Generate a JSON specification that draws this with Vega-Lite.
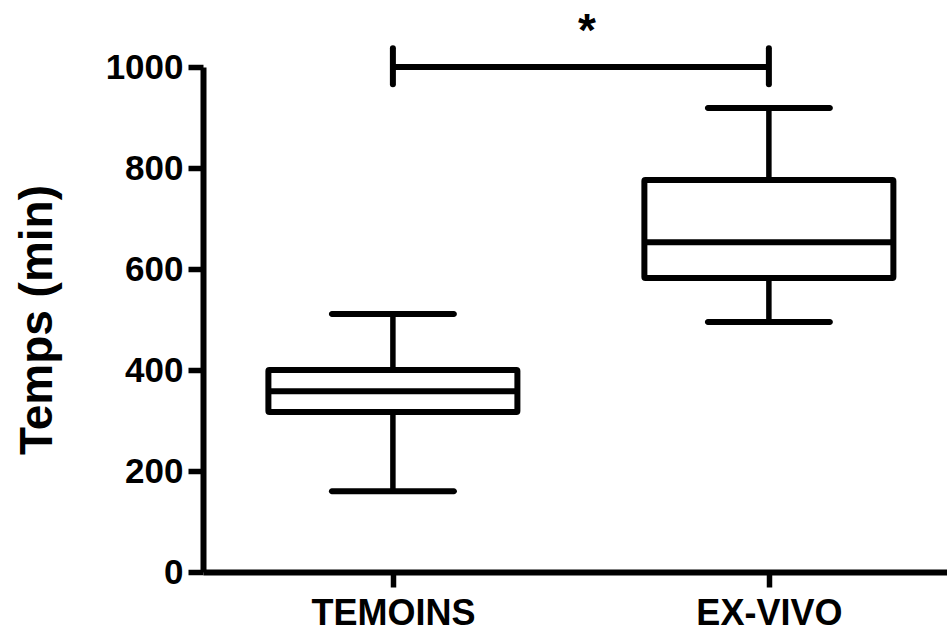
{
  "$schema": "https://vega.github.io/schema/vega-lite/v6.json",
  "autosize": {"type": "none"},
  "padding": {"left": 203, "top": 67, "right": 0, "bottom": 60},
  "width": 744,
  "height": 505,
  "background": "white",
  "datasets": {
    "boxes": [
      {"groupe": "TEMOINS", "min": 160, "q1": 317, "median": 358, "q3": 400, "max": 511},
      {"groupe": "EX-VIVO", "min": 495, "q1": 582, "median": 653, "q3": 776, "max": 919}
    ],
    "sig": [
      {"de": "TEMOINS", "a": "EX-VIVO", "y": 1000, "label": "*"}
    ],
    "sigEnds": [
      {"groupe": "TEMOINS", "bas": 966, "haut": 1037},
      {"groupe": "EX-VIVO", "bas": 966, "haut": 1037}
    ]
  },
  "config": {
    "view": {"stroke": null},
    "axis": {
      "grid": false,
      "domainColor": "black",
      "domainWidth": 6,
      "tickColor": "black",
      "tickWidth": 5.5,
      "tickSize": 15,
      "labelColor": "black",
      "labelFont": "Liberation Sans",
      "labelFontWeight": "bold",
      "titleFont": "Liberation Sans",
      "titleFontWeight": "bold",
      "titleColor": "black"
    }
  },
  "encoding": {
    "x": {
      "field": "groupe",
      "type": "nominal",
      "scale": {"type": "point", "domain": ["TEMOINS", "EX-VIVO"], "padding": 0.4894, "align": 0.516},
      "axis": {"title": null, "labelAngle": 0, "labelFontSize": 36, "labelPadding": 9}
    }
  },
  "layer": [
    {
      "data": {"name": "boxes"},
      "mark": {"type": "rule", "strokeWidth": 5.5, "color": "black"},
      "encoding": {
        "y": {
          "field": "min", "type": "quantitative",
          "scale": {"domain": [0, 1000], "nice": false},
          "axis": {"title": "Temps (min)", "values": [0, 200, 400, 600, 800, 1000], "format": "d", "labelFontSize": 35, "labelPadding": 5, "titleFontSize": 46, "titlePadding": 44}
        },
        "y2": {"field": "q1"}
      }
    },
    {
      "data": {"name": "boxes"},
      "mark": {"type": "rule", "strokeWidth": 5.5, "color": "black"},
      "encoding": {
        "y": {"field": "q3", "type": "quantitative"},
        "y2": {"field": "max"}
      }
    },
    {
      "data": {"name": "boxes"},
      "mark": {"type": "bar", "width": 249, "fill": "white", "stroke": "black", "strokeWidth": 6, "cornerRadius": 1},
      "encoding": {
        "y": {"field": "q1", "type": "quantitative"},
        "y2": {"field": "q3"}
      }
    },
    {
      "data": {"name": "boxes"},
      "mark": {"type": "tick", "size": 249, "thickness": 6, "color": "black", "opacity": 1},
      "encoding": {
        "y": {"field": "median", "type": "quantitative"}
      }
    },
    {
      "data": {"name": "boxes"},
      "mark": {"type": "tick", "size": 128, "thickness": 6, "color": "black", "opacity": 1, "cornerRadius": 3},
      "encoding": {
        "y": {"field": "min", "type": "quantitative"}
      }
    },
    {
      "data": {"name": "boxes"},
      "mark": {"type": "tick", "size": 128, "thickness": 6, "color": "black", "opacity": 1, "cornerRadius": 3},
      "encoding": {
        "y": {"field": "max", "type": "quantitative"}
      }
    },
    {
      "data": {"name": "sig"},
      "mark": {"type": "rule", "strokeWidth": 6, "color": "black"},
      "encoding": {
        "x": {"field": "de", "type": "nominal"},
        "x2": {"field": "a"},
        "y": {"field": "y", "type": "quantitative"}
      }
    },
    {
      "data": {"name": "sigEnds"},
      "mark": {"type": "rule", "strokeWidth": 6, "color": "black", "strokeCap": "round"},
      "encoding": {
        "y": {"field": "bas", "type": "quantitative"},
        "y2": {"field": "haut"}
      }
    },
    {
      "data": {"name": "sig"},
      "mark": {"type": "text", "font": "Liberation Sans", "fontWeight": "bold", "fontSize": 46, "color": "black", "baseline": "alphabetic", "align": "center", "dx": 194},
      "encoding": {
        "x": {"field": "de", "type": "nominal"},
        "y": {"value": -21},
        "text": {"field": "label"}
      }
    }
  ]
}
